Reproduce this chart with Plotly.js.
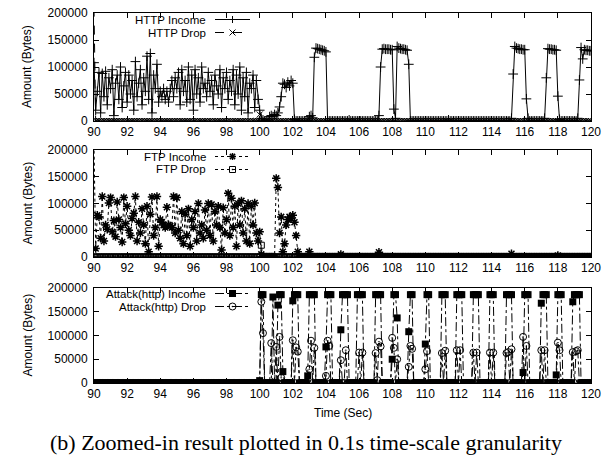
<!DOCTYPE html>
<html>
<head>
<meta charset="utf-8">
<script src="https://cdn.plot.ly/plotly-3.0.1.min.js"></script>
<style>html,body{margin:0;padding:0;background:#fff;}#chart{width:612px;height:462px;}</style>
</head>
<body>
<div id="chart"></div>
<script>
// Time axis: 90.0 s to 120.0 s at 0.1 s granularity
const timeStart = 90, timeStep = 0.1, sampleCount = 301;
const time = [];
for (let i = 0; i < sampleCount; i++) time.push(Math.round((timeStart + i * timeStep) * 10) / 10);

const xTicks = [90,92,94,96,98,100,102,104,106,108,110,112,114,116,118,120];
const yTicks = [0,50000,100000,150000,200000];
const seriesNames = ['HTTP Income','HTTP Drop','FTP Income','FTP Drop','Attack(http) Income','Attack(http) Drop'];

const httpIncome = [
108000,20000,55000,90000,15000,88000,45000,92000,30000,80000,
60000,95000,10000,70000,85000,40000,100000,25000,65000,90000,
35000,85000,50000,75000,20000,110000,45000,70000,95000,30000,
80000,55000,120000,40000,125000,15000,85000,60000,105000,35000,
55000,45000,60000,40000,55000,35000,60000,75000,45000,80000,
60000,90000,30000,95000,55000,75000,35000,100000,40000,85000,
20000,95000,50000,80000,35000,100000,60000,70000,45000,90000,
55000,75000,30000,85000,65000,50000,95000,25000,80000,60000,
90000,40000,75000,55000,95000,30000,85000,50000,100000,20000,
80000,45000,90000,15000,70000,60000,85000,25000,75000,40000,
20000,5000,2000,0,0,2000,8000,10000,8000,12000,
10000,15000,26000,45000,70000,68000,62000,72000,65000,75000,
70000,3000,0,0,0,0,0,0,0,0,
8000,10000,6000,118000,135000,134000,133000,132000,131000,130000,
128000,0,0,0,0,0,0,0,0,0,
0,0,0,0,2000,0,0,0,0,0,
0,0,0,0,0,0,0,0,0,0,
0,0,10000,100000,133000,134000,133000,133000,133000,132000,
132000,22000,5000,138000,135000,134000,133000,133000,132000,131000,
105000,0,0,0,0,0,0,0,0,0,
0,0,0,0,0,0,0,0,0,0,
0,0,0,0,2000,0,0,0,0,0,
0,0,0,0,0,0,0,0,0,0,
0,0,0,0,0,0,0,0,0,0,
0,0,0,0,0,0,0,0,0,0,
0,0,5000,87000,138000,135000,134000,133000,133000,132000,
132000,41000,5000,0,0,0,0,0,0,0,
0,0,5000,80000,134000,133000,133000,132000,132000,131000,
46000,3000,0,0,0,0,0,0,0,0,
0,0,5000,76000,136000,115000,132000,131000,131000,130000,
130000];

const httpDrop = [
210000,0,0,0,0,0,0,0,0,0,
0,0,0,0,0,0,0,0,0,0,
0,0,0,0,0,0,0,0,0,0,
0,0,0,0,0,0,0,0,0,0,
0,0,0,0,0,0,0,0,0,0,
0,0,0,0,0,0,0,0,0,0,
0,0,0,0,0,0,0,0,0,0,
0,0,0,0,0,0,0,0,0,0,
0,0,0,0,0,0,0,0,0,0,
0,0,0,0,0,0,0,0,0,0,
12000,0,0,0,0,0,0,0,0,0,
0,0,0,0,0,0,0,0,0,0,
0,0,0,0,0,0,0,0,0,0,
0,0,0,0,0,0,0,0,0,0,
0,0,0,0,0,0,0,0,0,0,
0,0,0,0,0,0,0,0,0,0,
0,0,0,0,0,0,0,0,0,0,
0,0,0,0,0,0,0,0,0,0,
0,0,0,0,0,0,0,0,0,0,
0,0,0,0,0,0,0,0,0,0,
0,0,0,0,0,0,0,0,0,0,
0,0,0,0,0,0,0,0,0,0,
0,0,0,0,0,0,0,0,0,0,
0,0,0,0,0,0,0,0,0,0,
0,0,0,0,0,0,0,0,0,0,
0,0,0,0,0,0,0,0,0,0,
0,0,0,0,0,0,0,0,0,0,
0,0,0,0,0,0,0,0,0,0,
0,0,0,0,0,0,0,0,0,0,
0,0,0,0,0,0,0,0,0,0,
0];

const ftpIncome = [
210000,16000,78000,75000,35000,113000,30000,60000,52000,101000,
111000,47000,68000,38000,103000,70000,55000,28000,111000,62000,
95000,50000,40000,72000,82000,113000,30000,65000,45000,90000,
60000,25000,95000,10000,80000,112000,40000,55000,113000,20000,
70000,65000,60000,55000,93000,60000,58000,55000,113000,45000,
111000,50000,35000,85000,25000,80000,40000,90000,20000,70000,
55000,85000,30000,100000,45000,60000,35000,88000,50000,100000,
40000,98000,30000,85000,60000,95000,55000,13000,92000,45000,
70000,119000,40000,110000,55000,95000,20000,100000,60000,105000,
45000,90000,30000,100000,25000,95000,60000,101000,45000,30000,
47000,5000,0,0,0,0,0,0,0,0,
147000,130000,45000,75000,10000,25000,60000,70000,75000,72000,
78000,65000,40000,10000,0,0,0,0,0,0,
10000,0,0,0,0,0,0,0,0,0,
0,0,0,0,0,0,0,0,0,5000,
0,0,0,0,0,0,0,0,0,0,
0,0,0,0,0,0,0,0,0,0,
0,0,9000,0,0,0,0,0,0,0,
0,0,0,0,0,0,0,0,0,0,
0,0,0,0,0,0,0,0,0,0,
0,0,0,0,0,0,0,0,0,0,
0,0,0,0,0,0,0,0,0,0,
0,0,0,0,0,0,0,0,0,0,
0,0,0,0,0,0,0,0,0,0,
0,0,0,0,0,0,0,0,0,0,
0,0,6000,0,0,0,0,0,0,0,
0,0,0,0,0,0,0,0,0,0,
0,0,0,0,0,0,0,0,0,0,
3000,0,0,0,0,0,0,0,0,0,
0,0,0,0,0,0,0,0,0,0,
0];

const ftpDrop = [
0,0,0,0,0,0,0,0,0,0,
0,0,0,0,0,0,0,0,0,0,
0,0,0,0,0,0,0,0,0,0,
0,0,0,0,0,0,0,0,0,0,
0,0,0,0,0,0,0,0,0,0,
0,0,0,0,0,0,0,0,0,0,
0,0,0,0,0,0,0,0,0,0,
0,0,0,0,0,0,0,0,0,0,
0,0,0,0,0,0,0,0,0,0,
0,0,0,0,0,0,0,0,0,0,
0,22000,0,0,0,0,0,0,0,0,
0,0,0,0,0,0,0,0,0,0,
0,0,0,0,0,0,0,0,0,0,
0,0,0,0,0,0,0,0,0,0,
0,0,0,0,0,0,0,0,0,0,
0,0,0,0,0,0,0,0,0,0,
0,0,0,0,0,0,0,0,0,0,
0,0,0,0,0,0,0,0,0,0,
0,0,0,0,0,0,0,0,0,0,
0,0,0,0,0,0,0,0,0,0,
0,0,0,0,0,0,0,0,0,0,
0,0,0,0,0,0,0,0,0,0,
0,0,0,0,0,0,0,0,0,0,
0,0,0,0,0,0,0,0,0,0,
0,0,0,0,0,0,0,0,0,0,
0,0,0,0,0,0,0,0,0,0,
0,0,0,0,0,0,0,0,0,0,
0,0,0,0,0,0,0,0,0,0,
0,0,0,0,0,0,0,0,0,0,
0,0,0,0,0,0,0,0,0,0,
0];

const attackIncome = [
0,0,0,0,0,0,0,0,0,0,
0,0,0,0,0,0,0,0,0,0,
0,0,0,0,0,0,0,0,0,0,
0,0,0,0,0,0,0,0,0,0,
0,0,0,0,0,0,0,0,0,0,
0,0,0,0,0,0,0,0,0,0,
0,0,0,0,0,0,0,0,0,0,
0,0,0,0,0,0,0,0,0,0,
0,0,0,0,0,0,0,0,0,0,
0,0,0,0,0,0,0,0,0,0,
5000,186000,186000,0,0,0,0,0,181000,0,
0,164000,186000,186000,24000,0,0,0,0,0,
173000,186000,186000,186000,0,0,0,0,0,15000,
186000,186000,186000,186000,0,0,0,0,0,0,
76000,186000,186000,186000,0,0,0,0,0,112000,
186000,186000,186000,186000,0,0,0,0,0,186000,
186000,186000,186000,0,0,0,0,0,0,0,
186000,186000,186000,186000,0,0,0,0,0,0,
50000,186000,186000,137000,0,0,0,0,0,0,
108000,186000,186000,0,0,0,0,0,0,0,
82000,186000,186000,0,0,0,0,0,0,0,
186000,186000,186000,0,0,0,0,0,0,186000,
186000,186000,186000,0,0,0,0,0,0,186000,
186000,186000,186000,0,0,0,0,0,0,186000,
186000,186000,0,0,0,0,0,0,0,186000,
186000,186000,186000,0,0,0,0,0,0,22000,
186000,186000,186000,0,0,0,0,0,0,0,
168000,186000,186000,186000,0,0,0,0,0,17000,
186000,186000,186000,0,0,0,0,0,0,171000,
186000,186000,186000,186000,0,0,0,0,0,0,
0];

const attackDrop = [
0,0,0,0,0,0,0,0,0,0,
0,0,0,0,0,0,0,0,0,0,
0,0,0,0,0,0,0,0,0,0,
0,0,0,0,0,0,0,0,0,0,
0,0,0,0,0,0,0,0,0,0,
0,0,0,0,0,0,0,0,0,0,
0,0,0,0,0,0,0,0,0,0,
0,0,0,0,0,0,0,0,0,0,
0,0,0,0,0,0,0,0,0,0,
0,0,0,0,0,0,0,0,0,0,
0,171000,105000,0,0,0,0,84000,0,0,
76000,0,97000,11000,0,0,0,0,0,0,
90000,0,75000,66000,0,0,0,0,0,0,
29000,89000,0,74000,0,0,0,0,0,0,
15000,89000,78000,0,0,0,0,0,0,48000,
0,0,69000,0,0,0,0,0,0,0,
64000,0,64000,0,0,0,0,0,0,0,
63000,6000,87000,77000,0,0,0,0,0,0,
95000,74000,0,50000,0,0,0,0,0,0,
34000,78000,72000,0,0,0,0,0,0,0,
29000,67000,0,0,0,0,0,0,0,0,
63000,0,68000,0,0,0,0,0,0,69000,
0,69000,0,0,0,0,0,0,0,64000,
0,64000,0,0,0,0,0,0,0,64000,
0,64000,0,0,0,0,0,0,0,63000,
65000,0,71000,0,0,0,0,0,0,97000,
0,78000,0,0,0,0,0,0,0,0,
69000,0,69000,0,0,0,0,0,0,0,
85000,69000,0,0,0,0,0,0,0,65000,
0,67000,69000,0,0,0,0,0,0,0,
0];

// ---------- layout helpers (pixel geometry of the 612x462 figure) ----------
const W = 612, H = 462, L = 94, R = 21;
const PW = W - L - R;
const px = x => (x - L) / PW;
const py = y => 1 - y / H;
const FONT = 'Liberation Sans, Arial, Helvetica, sans-serif';

function mk(name, y, xa, ya, dash, symbol, size, mlw) {
  return {
    name: name, x: time, y: y, xaxis: xa, yaxis: ya, type: 'scatter', mode: 'lines+markers',
    line: {color: '#000', width: 1, dash: dash},
    marker: {symbol: symbol, size: size, color: '#000', line: {color: '#000', width: mlw}},
    cliponaxis: true, showlegend: false, hoverinfo: 'skip'
  };
}

const traces = [
  mk(seriesNames[0], httpIncome, 'x', 'y', 'solid', 'cross-thin-open', 7, 1),
  mk(seriesNames[1], httpDrop, 'x', 'y', 'dash', 'x-thin-open', 6, 1),
  mk(seriesNames[2], ftpIncome, 'x2', 'y2', 'dot', 'asterisk-open', 7, 1.5),
  mk(seriesNames[3], ftpDrop, 'x2', 'y2', 'dot', 'square-open-dot', 6, 1),
  mk(seriesNames[4], attackIncome, 'x3', 'y3', 'dashdot', 'square', 7, 0),
  mk(seriesNames[5], attackDrop, 'x3', 'y3', 'dashdot', 'circle-open-dot', 7, 1)
];

function xAxis(anchor) {
  return {
    anchor: anchor, domain: [0, 1], range: [90, 120], tickvals: xTicks, ticktext: xTicks.map(String),
    ticks: 'inside', ticklen: 5, tickcolor: '#000', tickwidth: 1, showline: true, linecolor: '#000', linewidth: 1,
    mirror: 'ticks', showgrid: false, zeroline: false, tickfont: {family: FONT, size: 12, color: '#000'},
    automargin: false
  };
}
function yAxis(anchor, top, bottom) {
  return {
    anchor: anchor, domain: [py(bottom), py(top)], range: [0, 200000], tickvals: yTicks, ticktext: yTicks.map(String),
    ticks: 'inside', ticklen: 5, tickcolor: '#000', tickwidth: 1, showline: true, linecolor: '#000', linewidth: 1,
    mirror: 'ticks', showgrid: false, zeroline: false, tickfont: {family: FONT, size: 12, color: '#000'},
    ticklabelstandoff: 3, automargin: false
  };
}

// legend keys (gnuplot style: text, then line sample with marker)
const shapes = [];
const annotations = [];
function seg(cx, cy, x0, y0, x1, y1, w) {
  shapes.push({type: 'line', xref: 'paper', yref: 'paper', xsizemode: 'pixel', ysizemode: 'pixel',
    xanchor: px(cx), yanchor: py(cy), x0: x0, x1: x1, y0: y0, y1: y1, line: {color: '#000', width: w || 1}});
}
function box(type, cx, cy, r, fill, w) {
  shapes.push({type: type, xref: 'paper', yref: 'paper', xsizemode: 'pixel', ysizemode: 'pixel',
    xanchor: px(cx), yanchor: py(cy), x0: -r, x1: r, y0: -r, y1: r,
    fillcolor: fill ? '#000' : 'rgba(0,0,0,0)', line: {color: '#000', width: w === undefined ? 1 : w}});
}
function glyph(kind, cx, cy) {
  if (kind === 'plus') { seg(cx, cy, -3.5, 0, 3.5, 0); seg(cx, cy, 0, -3.5, 0, 3.5); }
  if (kind === 'x') { seg(cx, cy, -3, -3, 3, 3); seg(cx, cy, -3, 3, 3, -3); }
  if (kind === 'ast') { seg(cx, cy, -3.5, 0, 3.5, 0, 1.5); seg(cx, cy, 0, -3.5, 0, 3.5, 1.5); seg(cx, cy, -2.6, -2.6, 2.6, 2.6, 1.5); seg(cx, cy, -2.6, 2.6, 2.6, -2.6, 1.5); }
  if (kind === 'sqdot') { box('rect', cx, cy, 3, false); box('rect', cx, cy, 0.7, true, 0); }
  if (kind === 'sqfill') { box('rect', cx, cy, 3.5, true, 0); }
  if (kind === 'circdot') { box('circle', cx, cy, 3.5, false); box('circle', cx, cy, 0.8, true, 0); }
}
function legendEntry(text, y, dash, kind) {
  annotations.push({text: text, xref: 'paper', yref: 'paper', x: px(207), y: py(y), xanchor: 'right', yanchor: 'middle',
    showarrow: false, font: {family: FONT, size: 11.5, color: '#000'}, borderpad: 0});
  shapes.push({type: 'line', xref: 'paper', yref: 'paper', x0: px(215), x1: px(250), y0: py(y), y1: py(y),
    line: {color: '#000', width: 1, dash: dash}});
  glyph(kind, 232.5, y);
}
legendEntry(seriesNames[0], 19.5, 'solid', 'plus');
legendEntry(seriesNames[1], 32.5, 'dash', 'x');
legendEntry(seriesNames[2], 156.5, 'dot', 'ast');
legendEntry(seriesNames[3], 169.5, 'dot', 'sqdot');
legendEntry(seriesNames[4], 293.5, 'dashdot', 'sqfill');
legendEntry(seriesNames[5], 306.5, 'dashdot', 'circdot');

// y titles
[[67], [203.5], [335.5]].forEach(function (p) {
  annotations.push({text: 'Amount (Bytes)', xref: 'paper', yref: 'paper', x: px(27), y: py(p[0]), textangle: -90,
    xanchor: 'center', yanchor: 'middle', showarrow: false, font: {family: FONT, size: 12, color: '#000'}});
});
// x title
annotations.push({text: 'Time (Sec)', xref: 'paper', yref: 'paper', x: px(342.5), y: py(413), xanchor: 'center', yanchor: 'middle',
  showarrow: false, font: {family: FONT, size: 12, color: '#000'}});
// caption
annotations.push({text: '(b) Zoomed-in result plotted in 0.1s time-scale granularity', xref: 'paper', yref: 'paper',
  x: px(306), y: py(442), xanchor: 'center', yanchor: 'middle', showarrow: false,
  font: {family: 'Liberation Serif, Times New Roman, serif', size: 22, color: '#000'}});

const layout = {
  width: W, height: H, margin: {l: L, r: R, t: 0, b: 0, pad: 0},
  paper_bgcolor: '#fff', plot_bgcolor: '#fff', showlegend: false,
  font: {family: FONT, size: 12, color: '#000'},
  xaxis: xAxis('y'), xaxis2: xAxis('y2'), xaxis3: xAxis('y3'),
  yaxis: yAxis('x', 13, 121), yaxis2: yAxis('x2', 150, 257), yaxis3: yAxis('x3', 288, 383),
  shapes: shapes, annotations: annotations
};

Plotly.newPlot('chart', traces, layout, {staticPlot: true, displayModeBar: false});
</script>
</body>
</html>
